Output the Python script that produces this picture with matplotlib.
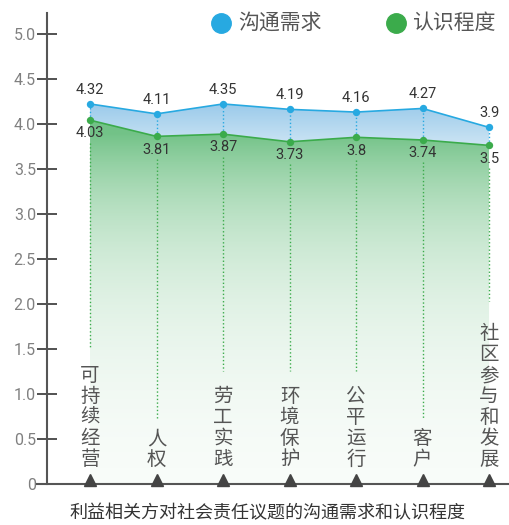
import numpy as np
import matplotlib.pyplot as plt
from matplotlib.colors import LinearSegmentedColormap

plt.rcParams['font.family'] = ['Noto Sans CJK SC', 'DejaVu Sans']

categories = ['可持续经营', '人权', '劳工实践', '环境保护', '公平运行', '客户', '社区参与和发展']
# plotted positions as drawn in the chart
demand = [4.22, 4.11, 4.22, 4.16, 4.13, 4.17, 3.96]
aware = [4.04, 3.86, 3.885, 3.80, 3.85, 3.82, 3.76]
# printed value labels
demand_labels = ['4.32', '4.11', '4.35', '4.19', '4.16', '4.27', '3.9']
aware_labels = ['4.03', '3.81', '3.87', '3.73', '3.8', '3.74', '3.5']
yticks = [0, 0.5, 1.0, 1.5, 2.0, 2.5, 3.0, 3.5, 4.0, 4.5, 5.0]
ytick_labels = ['0', '0.5', '1.0', '1.5', '2.0', '2.5', '3.0', '3.5', '4.0', '4.5', '5.0']

BLUE = '#27a9e1'
GREEN = '#3bab4b'
GREY = '#555555'


def main():
    fig = plt.figure(figsize=(5.09, 5.25), dpi=100)
    ax = fig.add_axes([47 / 509, 41 / 525, 462 / 509, 471 / 525])
    x = np.arange(len(categories))
    ax.set_xlim(-0.647, 6.3)
    ax.set_ylim(0, 5.23)

    # green gradient fill from line to 0, fading fast toward the bottom
    gcols = LinearSegmentedColormap.from_list('g', ['#ffffff', '#72c287'])
    yy = np.linspace(0, 4.1, 300)
    grad = np.exp(0.8 * (yy - 3.9)).clip(0, 1)[:, None]
    poly = ax.fill_between(x, aware, 0, color='none', lw=0)
    im = ax.imshow(grad, extent=[x[0], x[-1], 0, 4.1], origin='lower', aspect='auto',
                   cmap=gcols, vmin=0, vmax=1, zorder=1)
    im.set_clip_path(poly.get_paths()[0], transform=ax.transData)

    # blue gradient fill between lines
    bcols = LinearSegmentedColormap.from_list('b', ['#d3e8f5', '#98c9ea'])
    yy2 = np.linspace(3.7, 4.25, 100)[:, None]
    poly2 = ax.fill_between(x, demand, aware, color='none', lw=0)
    im2 = ax.imshow(yy2, extent=[x[0], x[-1], 3.7, 4.25], origin='lower', aspect='auto',
                    cmap=bcols, zorder=1)
    im2.set_clip_path(poly2.get_paths()[0], transform=ax.transData)

    ax.plot(x, demand, color=BLUE, lw=1.2, zorder=3)
    ax.plot(x, aware, color=GREEN, lw=1.2, zorder=3)
    ax.scatter(x, demand, s=28, color=BLUE, zorder=4, lw=0)
    ax.scatter(x, aware, s=28, color=GREEN, zorder=4, lw=0)

    pitch = 23.3 / 90
    for i in x:
        ax.plot([i, i], [aware[i], demand[i]], ls=':', color=BLUE, lw=1, zorder=2)
        n = len(categories[i])
        top = 0.155 + n * pitch
        ax.plot([i, i], [aware[i] - 0.25, top + 0.06], ls=':', color=GREEN, lw=1, zorder=2)
        ax.text(i, demand[i] + 0.08, demand_labels[i], ha='center', va='bottom',
                fontsize=10.5, color='#333333', family=['Roboto', 'DejaVu Sans'], zorder=5)
        ax.text(i, aware[i] - 0.07, aware_labels[i], ha='center', va='top',
                fontsize=10.5, color='#333333', family=['Roboto', 'DejaVu Sans'], zorder=5)
        ax.text(i, 0.155, '\n'.join(categories[i]), ha='center', va='bottom',
                fontsize=14, color=GREY, linespacing=1.0, zorder=5)

    ax.plot(x, [0.045] * len(x), ls='none', marker='^', ms=8, color='#444444',
            clip_on=False, zorder=6)

    for s in ['top', 'right']:
        ax.spines[s].set_visible(False)
    for s in ['left', 'bottom']:
        ax.spines[s].set_color(GREY)
        ax.spines[s].set_linewidth(1.5)
    ax.spines['bottom'].set_bounds(-0.797, 6.3)
    ax.set_xticks([])
    ax.set_yticks(yticks)
    ax.set_yticklabels(ytick_labels, family=['Roboto', 'DejaVu Sans'])
    ax.tick_params(axis='y', direction='inout', length=14, width=1.2, color='#333333',
                   labelcolor='#808080', labelsize=11.5, pad=1)

    # legend
    ax.plot([221 / 509], [1 - 23 / 525], 'o', ms=14, color=BLUE, transform=fig.transFigure,
            clip_on=False)
    fig.text(238 / 509, 1 - 23 / 525, '沟通需求', fontsize=15, color=GREY, va='center')
    ax.plot([396 / 509], [1 - 23 / 525], 'o', ms=14, color=GREEN, transform=fig.transFigure,
            clip_on=False)
    fig.text(412 / 509, 1 - 23 / 525, '认识程度', fontsize=15, color=GREY, va='center')

    fig.text(267 / 509, 1 - 513 / 525, '利益相关方对社会责任议题的沟通需求和认识程度',
             fontsize=13, color='#333333', ha='center', va='center')

    fig.savefig('out.png', dpi=100)


if __name__ == "__main__":
    main()
